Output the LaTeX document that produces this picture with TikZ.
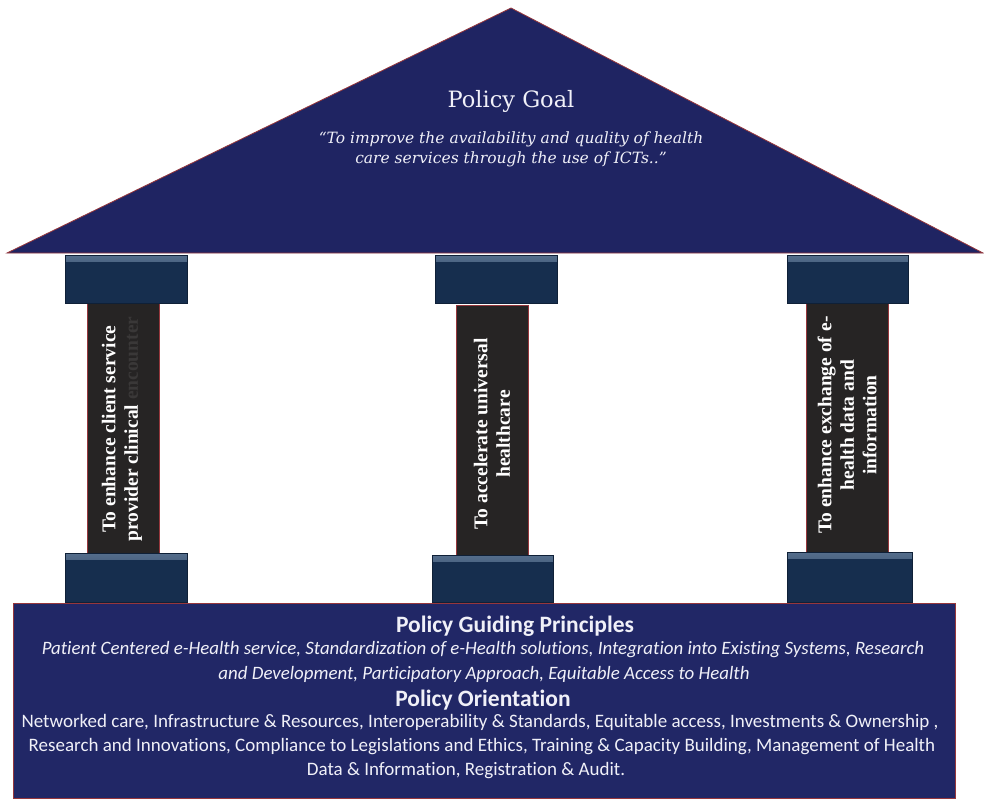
\documentclass[tikz,border=0pt]{standalone}
\usepackage{fontspec}
\setmainfont{Liberation Serif}
\newfontfamily\calfont[Ligatures=NoCommon]{Carlito}
\newfontfamily\rooffont{DejaVu Serif}
\definecolor{roofblue}{RGB}{31,36,98}
\definecolor{baseblue}{RGB}{33,39,102}
\definecolor{capblue}{RGB}{22,46,78}
\definecolor{caphi}{RGB}{85,110,140}
\definecolor{shaftgray}{RGB}{38,36,36}
\definecolor{edgered}{RGB}{150,55,60}
\definecolor{dimtext}{RGB}{58,56,56}
\definecolor{softwhite}{RGB}{240,240,248}
\tikzset{
  capbox/.style={draw=capblue!70!black, line width=0.6pt, fill=capblue, inner sep=0pt,
    path picture={\shade[top color=caphi, bottom color=capblue]
      (path picture bounding box.north west) rectangle ([yshift=-6pt]path picture bounding box.north east);}},
  shaftbox/.style={draw=edgered, line width=0.8pt, fill=shaftgray, inner sep=0pt},
  pillartext/.style={rotate=90, align=center, text=white, font=\fontsize{19.5}{22.5}\selectfont\bfseries, inner sep=0pt},
  basehead/.style={text=softwhite, font=\calfont\fontsize{23.5}{27}\selectfont\bfseries, inner sep=0pt},
  baseital/.style={text=softwhite, font=\calfont\fontsize{18.9}{22}\selectfont\itshape, inner sep=0pt},
  basebody/.style={text=softwhite, font=\calfont\fontsize{19}{22}\selectfont, inner sep=0pt},
}
\begin{document}
\begin{tikzpicture}[x=1pt,y=-1pt]
\useasboundingbox (0,0) rectangle (984,800);
\fill[white] (0,0) rectangle (984,800);

% shafts
\node[shaftbox, minimum width=72pt, minimum height=250pt] (lshaft) at (123,428) {};
\node[shaftbox, minimum width=72pt, minimum height=250pt] (mshaft) at (492,430) {};
\node[shaftbox, minimum width=82pt, minimum height=250pt] (rshaft) at (847,428) {};

% capitals and bases of pillars
\node[capbox, minimum width=122pt, minimum height=48pt] (ltop) at (126,279) {};
\node[capbox, minimum width=122pt, minimum height=48pt] (mtop) at (496,279) {};
\node[capbox, minimum width=121pt, minimum height=48pt] (rtop) at (847.5,279) {};
\node[capbox, minimum width=122pt, minimum height=49pt] (lbot) at (126,577.5) {};
\node[capbox, minimum width=121pt, minimum height=47pt] (mbot) at (492.5,578.5) {};
\node[capbox, minimum width=125pt, minimum height=50pt] (rbot) at (849.5,577) {};

% roof
\coordinate (roofL) at (7,253);
\coordinate (roofT) at (511,8);
\coordinate (roofR) at (983,253);
\path[draw=edgered, line width=0.8pt, fill=roofblue] (roofL) -- (roofT) -- (roofR) -- cycle;

% base
\node[draw=edgered, line width=0.9pt, fill=baseblue, minimum width=942pt, minimum height=195pt, inner sep=0pt] (base) at (484,700.5) {};

% roof texts
\node[text=softwhite, font=\rooffont\fontsize{22.5}{26}\selectfont, inner sep=0pt] (goal) at (511,101) {Policy Goal};
\node[text=softwhite, font=\rooffont\fontsize{15.5}{18}\selectfont\itshape, inner sep=0pt] (quote1) at (511,139) {“To improve the availability and quality of health};
\node[text=softwhite, font=\rooffont\fontsize{15.5}{18}\selectfont\itshape, inner sep=0pt] (quote2) at (511,159) {care services through the use of ICTs..”};

% pillar texts
\node[pillartext] (ltext) at (122,429) {To enhance client service\\provider clinical {\color{dimtext}encounter}};
\node[pillartext] (mtext) at (492,434) {To accelerate universal\\healthcare};
\node[pillartext] (rtext) at (847,425) {To enhance exchange of e-\\health data and\\information};

% base texts
\node[basehead] (gp) at (515,626) {Policy Guiding Principles};
\node[baseital] (gp1) at (483,650) {Patient Centered e-Health service, Standardization of e-Health solutions, Integration into Existing Systems, Research};
\node[baseital] (gp2) at (484,674) {and Development, Participatory Approach, Equitable Access to Health};
\node[basehead] (po) at (483,700) {Policy Orientation};
\node[basebody] (po1) at (480,722) {Networked care, Infrastructure \& Resources, Interoperability \& Standards, Equitable access, Investments \& Ownership ,};
\node[basebody] (po2) at (482,747) {Research and Innovations, Compliance to Legislations and Ethics, Training \& Capacity Building, Management of Health};
\node[basebody] (po3) at (466,771) {Data \& Information, Registration \& Audit.};
\end{tikzpicture}
\end{document}
